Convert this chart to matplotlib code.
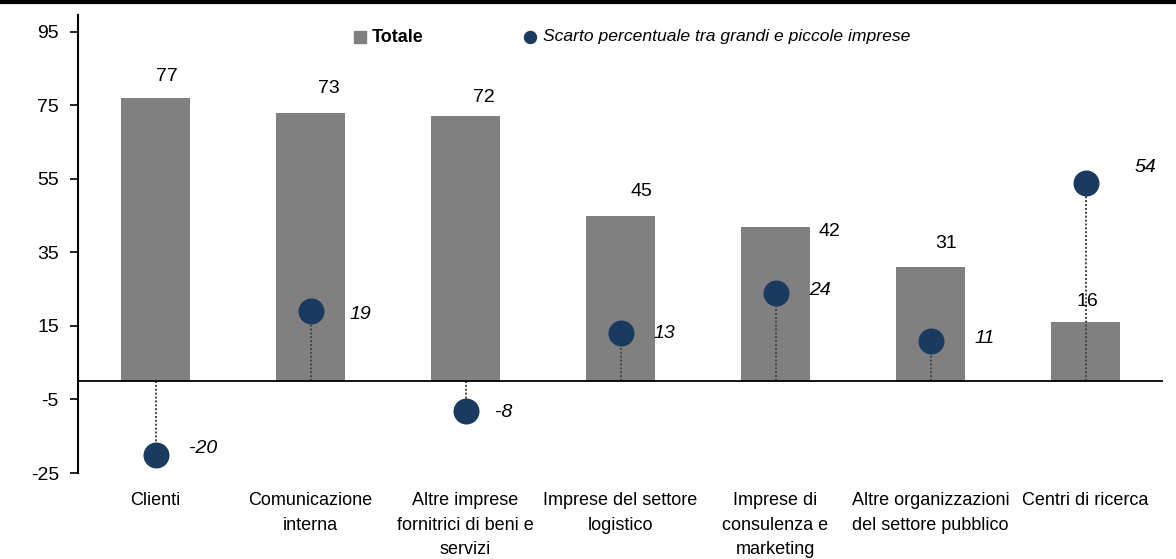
import matplotlib
matplotlib.use("Agg")
import matplotlib.pyplot as plt
from matplotlib import font_manager
from matplotlib.lines import Line2D

categories = ["Clienti", "Comunicazione\ninterna", "Altre imprese\nfornitrici di beni e\nservizi",
              "Imprese del settore\nlogistico", "Imprese di\nconsulenza e\nmarketing",
              "Altre organizzazioni\ndel settore pubblico", "Centri di ricerca"]
totale = [77, 73, 72, 45, 42, 31, 16]
scarto = [-20, 19, -8, 13, 24, 11, 54]
yticks = [95, 75, 55, 35, 15, -5, -25]

names = {f.name for f in font_manager.fontManager.ttflist}
fam = ["Liberation Sans Narrow", "Liberation Sans", "DejaVu Sans"]
plt.rcParams["font.family"] = [f for f in fam if f in names] or ["DejaVu Sans"]

bar_color = "#808080"
dot_color = "#1b3a60"
W, H = 1176, 559
PT = 0.72  # points per pixel at dpi 100

fig = plt.figure(figsize=(W / 100, H / 100), dpi=100)
ax = fig.add_axes([78 / W, 1 - 473 / H, (1163 - 78) / W, (473 - 15) / H])

x = list(range(len(categories)))
ax.bar(x, totale, width=0.45, color=bar_color, zorder=2)
for xi, s in zip(x, scarto):
    ax.plot([xi, xi], [0, s], color="#444444", lw=1.4, ls=(0, (1, 1)), zorder=3)
ax.scatter(x, scarto, s=(26 * PT) ** 2, color=dot_color, zorder=4, linewidths=0)

# label offsets in pixels (dx, dy up)
bar_off = [(11, 22), (18, 24), (18, 19), (21, 24), (54, -5), (16, 24), (2, 21)]
for xi, v, (dx, dy) in zip(x, totale, bar_off):
    ax.annotate(f"{v}", (xi, v), xytext=(dx * PT, dy * PT), textcoords="offset points",
                ha="center", va="center", fontsize=14, zorder=6)
dot_off = [(33, 6), (39, -3), (29, -2), (33, 0), (34, 2), (44, 2), (49, 15)]
for xi, s, (dx, dy) in zip(x, scarto, dot_off):
    ax.annotate(f"{s}", (xi, s), xytext=(dx * PT, dy * PT), textcoords="offset points",
                ha="left", va="center", fontsize=14, style="italic", zorder=6)

ax.axhline(0, color="black", lw=1.3, zorder=5)
ax.set_xlim(-0.5, 6.5)
ax.set_ylim(-25, 99.6)
ax.set_yticks(yticks)
ax.set_yticklabels([str(t) for t in yticks], fontsize=14)
ax.tick_params(axis="y", direction="out", length=8 * PT, width=1.2, pad=8)
ax.set_xticks(x)
ax.set_xticklabels(categories, fontsize=13, linespacing=1.55)
ax.tick_params(axis="x", length=0, pad=14)
for sp in ["top", "right", "bottom"]:
    ax.spines[sp].set_visible(False)
ax.spines["left"].set_linewidth(1.5)

# legend (drawn by hand at reference position)
ly = 1 - 37 / H
fig.add_artist(Line2D([360 / W], [ly], marker="s", ls="none", color=bar_color,
                      markersize=12 * PT, transform=fig.transFigure))
fig.text(372 / W, ly, "Totale", fontsize=13, fontweight="bold", va="center", ha="left")
fig.add_artist(Line2D([530 / W], [ly], marker="o", ls="none", color=dot_color,
                      markersize=12 * PT, transform=fig.transFigure))
fig.text(543 / W, ly, "Scarto percentuale tra grandi e piccole imprese", fontsize=12.6,
         style="italic", va="center", ha="left")

fig.add_artist(Line2D([0, 1], [1 - 1.5 / H, 1 - 1.5 / H], color="black", lw=3,
                      transform=fig.transFigure))

fig.savefig("out.png", dpi=100)
